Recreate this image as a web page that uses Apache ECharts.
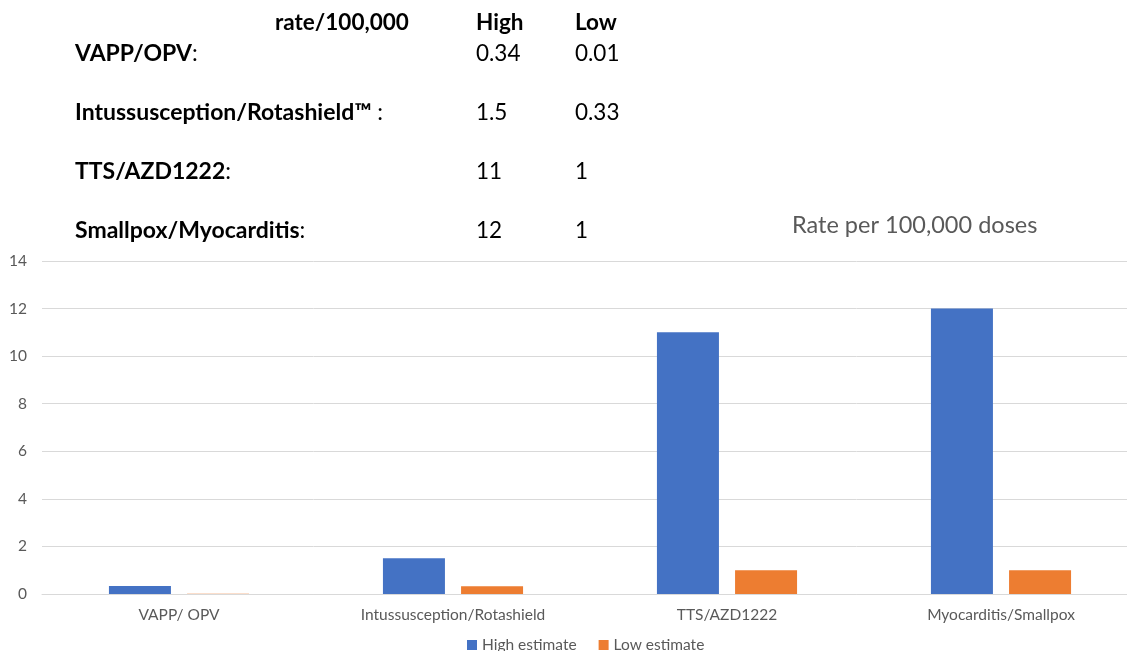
<!DOCTYPE html>
<html><head><meta charset="utf-8">
<script src="https://cdn.jsdelivr.net/npm/echarts@6/dist/echarts.min.js"></script>
<style>html,body{margin:0;padding:0;background:#fff}#c{width:1127px;height:651px}</style>
</head><body><div id="c"></div>
<script>
const categories = ['VAPP/ OPV', 'Intussusception/Rotashield', 'TTS/AZD1222', 'Myocarditis/Smallpox'];
const highEstimate = [0.34, 1.5, 11, 12];
const lowEstimate = [0.01, 0.33, 1, 1];
const seriesNames = ['High estimate', 'Low estimate'];
const yTicks = [0, 2, 4, 6, 8, 10, 12, 14];
const chartTitle = 'Rate per 100,000 doses';
const tableHeader = ['rate/100,000', 'High', 'Low'];
const tableRows = ['VAPP/OPV', 'Intussusception/Rotashield\u2122 ', 'TTS/AZD1222', 'Smallpox/Myocarditis'];
const tableHigh = ['0.34', '1.5', '11', '12'];
const tableLow = ['0.01', '0.33', '1', '1'];

const FONT = 'Lato';
const FS = 22.5;
const chart = echarts.init(document.getElementById('c'));
const rowY = [55, 114, 173, 232];
const graphics = [];
graphics.push({type:'text', left:275, top:11, style:{text:tableHeader[0], font:'bold ' + FS + 'px ' + FONT, fill:'#000'}});
graphics.push({type:'text', left:476, top:11, style:{text:tableHeader[1], font:'bold ' + FS + 'px ' + FONT, fill:'#000'}});
graphics.push({type:'text', left:575, top:11, style:{text:tableHeader[2], font:'bold ' + FS + 'px ' + FONT, fill:'#000'}});
tableRows.forEach((r, i) => {
  graphics.push({type:'text', left:75, top:rowY[i]-13, style:{
    text:'{b|' + r + '}{n|:}', fill:'#000',
    rich:{b:{font:'bold 23px ' + FONT, fill:'#000'}, n:{font:'23px ' + FONT, fill:'#000'}}}});
  graphics.push({type:'text', left:476, top:rowY[i]-13, style:{text:tableHigh[i], font:FS + 'px ' + FONT, fill:'#000'}});
  graphics.push({type:'text', left:575, top:rowY[i]-13, style:{text:tableLow[i], font:FS + 'px ' + FONT, fill:'#000'}});
});
graphics.push({type:'text', left:792, top:213, style:{text:chartTitle, font:'23.5px ' + FONT, fill:'#595959'}});

chart.setOption({
  animation:false,
  graphic:graphics,
  grid:{left:42, width:1096, top:261, bottom:57, containLabel:false, outerBoundsMode:'none'},
  legend:{top:637, left:467, padding:0, itemWidth:10, itemHeight:10, itemGap:22, icon:'rect',
    textStyle:{fontFamily:FONT, fontSize:15.5, color:'#595959'}, data:seriesNames},
  xAxis:{type:'category', data:categories,
    axisLine:{lineStyle:{color:'#d9d9d9'}}, axisTick:{show:false},
    axisLabel:{fontFamily:FONT, fontSize:15.5, color:'#595959', margin:13}},
  yAxis:{type:'value', min:yTicks[0], max:yTicks[yTicks.length-1], interval:2,
    axisLine:{show:false}, axisTick:{show:false},
    splitLine:{lineStyle:{color:'#d9d9d9'}},
    axisLabel:{fontFamily:FONT, fontSize:15.5, color:'#595959', margin:15}},
  series:[
    {name:seriesNames[0], type:'bar', data:highEstimate, barWidth:62, barGap:'26%', itemStyle:{color:'#4472c4'}},
    {name:seriesNames[1], type:'bar', data:lowEstimate, barWidth:62, itemStyle:{color:'#ed7d31'}}
  ]
});
</script></body></html>
